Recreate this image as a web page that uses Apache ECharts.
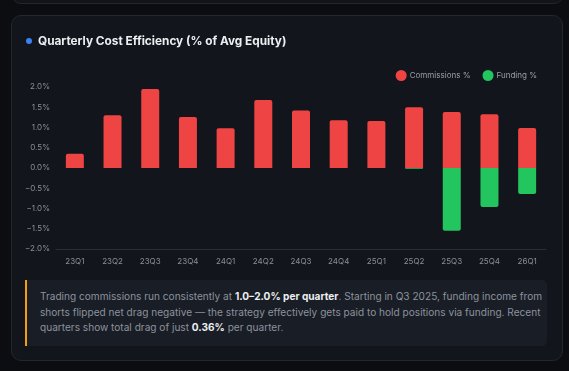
<!DOCTYPE html>
<html><head><meta charset="utf-8">
<script src="https://cdn.jsdelivr.net/npm/echarts@6/dist/echarts.min.js"></script>
<style>
html,body{margin:0;padding:0;background:#0b0d10;width:569px;height:371px;overflow:hidden;font-family:Inter,"Noto Sans",sans-serif;}
#topcard{position:absolute;left:11px;top:-20px;width:551px;height:22px;border:1px solid #22262d;border-radius:10px;background:#111419;}
#card{position:absolute;left:11px;top:15px;width:550px;height:344px;border:1px solid #23272e;border-radius:10px;background:#12151b;}
#chart{position:absolute;left:0;top:0;width:569px;height:371px;}
#note{position:absolute;left:25px;top:280px;width:507px;height:57px;padding:9px 0 0 13px;border-left:2px solid #f59e0b;background:#191d25;border-radius:0 5px 5px 0;color:#8c929d;font-size:10.1px;line-height:15.6px;}
#note b{color:#eceef1;font-weight:700;}
</style></head>
<body>
<div id="topcard"></div>
<div id="card"></div>
<div id="chart"></div>
<div id="note">Trading commissions run consistently at <b>1.0–2.0% per quarter</b>. Starting in Q3 2025, funding income from shorts flipped net drag negative — the strategy effectively gets paid to hold positions via funding. Recent quarters show total drag of just <b>0.36%</b> per quarter.</div>
<script>
const quarters = ['23Q1','23Q2','23Q3','23Q4','24Q1','24Q2','24Q3','24Q4','25Q1','25Q2','25Q3','25Q4','26Q1'];
const commissions = [0.35,1.30,1.95,1.26,0.98,1.68,1.42,1.18,1.16,1.50,1.38,1.33,0.99];
const funding = [0,0,0,0,0,0,0,0,0,-0.02,-1.55,-0.96,-0.64];
const seriesNames = ['Commissions %','Funding %'];

const chart = echarts.init(document.getElementById('chart'), null, {renderer:'canvas'});
chart.setOption({
  backgroundColor:'transparent',
  textStyle:{fontFamily:'Inter, "Noto Sans", sans-serif'},
  title:{text:'Quarterly Cost Efficiency (% of Avg Equity)',left:33,top:30,
    textStyle:{color:'#eceef1',fontSize:11.8,fontWeight:'bold'}},
  graphic:[{type:'circle',shape:{cx:29,cy:41,r:3},style:{fill:'#3b82f6'}}],
  legend:{right:27,top:65,icon:'circle',itemWidth:11,itemHeight:11,itemGap:12,
    textStyle:{color:'#9aa0a8',fontSize:8,padding:[0,0,0,-2]},data:seriesNames},
  grid:{left:56,right:23,top:87,bottom:122,containLabel:false},
  xAxis:{type:'category',data:quarters,
    axisLine:{onZero:false,lineStyle:{color:'#2a2e36'}},axisTick:{show:false},
    axisLabel:{color:'#8a8f98',fontSize:8,margin:9}},
  yAxis:{type:'value',min:-2,max:2,interval:0.5,
    splitLine:{show:false},axisLine:{show:false},axisTick:{show:false},
    axisLabel:{color:'#8a8f98',fontSize:8,margin:6,formatter:v=>(v<0?'−':'')+Math.abs(v).toFixed(1)+'%'}},
  series:[
    {name:seriesNames[0],type:'bar',stack:'c',data:commissions,barWidth:18,
      itemStyle:{color:'#ef4444',borderRadius:[2,2,0,0]}},
    {name:seriesNames[1],type:'bar',stack:'c',data:funding,barWidth:18,
      itemStyle:{color:'#22c55e',borderRadius:[0,0,2,2]}}
  ]
});
</script>
</body></html>
